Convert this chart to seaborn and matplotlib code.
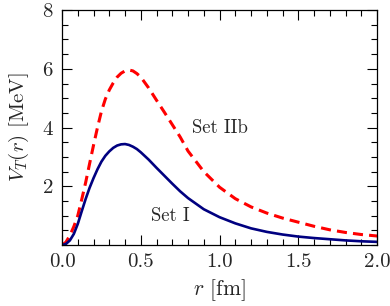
import numpy as np
import pandas as pd
import matplotlib
matplotlib.use("Agg")
import matplotlib.pyplot as plt
import seaborn as sns
from matplotlib.ticker import MultipleLocator

# values
r_fm = [0.0, 0.025, 0.05, 0.075, 0.1, 0.125, 0.15, 0.175, 0.2, 0.225, 0.25,
        0.275, 0.3, 0.325, 0.35, 0.375, 0.4, 0.425, 0.45, 0.475, 0.5, 0.55,
        0.6, 0.65, 0.7, 0.75, 0.8, 0.9, 1.0, 1.1, 1.2, 1.3, 1.4, 1.5, 1.6,
        1.7, 1.8, 1.9, 2.0]
set_I = [0.0, 0.04, 0.16, 0.38, 0.72, 1.15, 1.57, 1.95, 2.28, 2.58, 2.84,
         3.04, 3.19, 3.31, 3.39, 3.43, 3.44, 3.41, 3.35, 3.27, 3.16, 2.91,
         2.63, 2.36, 2.09, 1.83, 1.60, 1.22, 0.95, 0.74, 0.57, 0.45, 0.36,
         0.29, 0.24, 0.20, 0.16, 0.13, 0.11]
set_IIb = [0.0, 0.10, 0.33, 0.63, 1.00, 1.55, 2.13, 2.77, 3.40, 4.00, 4.55,
           4.97, 5.28, 5.52, 5.72, 5.85, 5.93, 5.96, 5.93, 5.84, 5.72, 5.35,
           4.93, 4.52, 4.10, 3.68, 3.20, 2.50, 1.97, 1.58, 1.30, 1.09, 0.92,
           0.78, 0.64, 0.52, 0.43, 0.36, 0.31]

sns.set_style("ticks")
plt.rcParams["font.family"] = ["cmr10", "DejaVu Serif"]
plt.rcParams["mathtext.fontset"] = "cm"
plt.rcParams["axes.formatter.use_mathtext"] = True

df = pd.DataFrame({"r": r_fm, "I": set_I, "IIb": set_IIb})

fig = plt.figure(figsize=(3.9, 3.06), dpi=100)
ax = fig.add_axes([0.159, 0.199, 0.808, 0.768])

sns.lineplot(data=df, x="r", y="IIb", ax=ax, color="#ff0000", lw=2.2,
             dashes=False, linestyle=(0, (3.3, 2.0)))
sns.lineplot(data=df, x="r", y="I", ax=ax, color="#000080", lw=1.9)

ax.set_xlim(0, 2)
ax.set_ylim(0, 8)
ax.set_xticks([0.0, 0.5, 1.0, 1.5, 2.0])
ax.set_xticklabels(["0.0", "0.5", "1.0", "1.5", "2.0"])
ax.set_yticks([2, 4, 6, 8])
ax.xaxis.set_minor_locator(MultipleLocator(0.1))
ax.yaxis.set_minor_locator(MultipleLocator(0.5))
ax.tick_params(which="both", direction="in", top=True, right=True,
               labelsize=15, width=0.8, color="black")
ax.tick_params(which="major", length=7, pad=6)
ax.tick_params(which="minor", length=4)
for s in ax.spines.values():
    s.set_linewidth(0.9)
    s.set_color("black")

ax.set_xlabel(r"$r$ [fm]", fontsize=15.5, labelpad=4)
ax.set_ylabel(r"$V_T(r)$ [MeV]", fontsize=15, labelpad=8)

ax.text(1.0, 3.98, "Set IIb", fontsize=13.5, ha="center", va="center")
ax.text(0.69, 1.0, "Set I", fontsize=13.5, ha="center", va="center")

fig.savefig("out.png", dpi=100)
